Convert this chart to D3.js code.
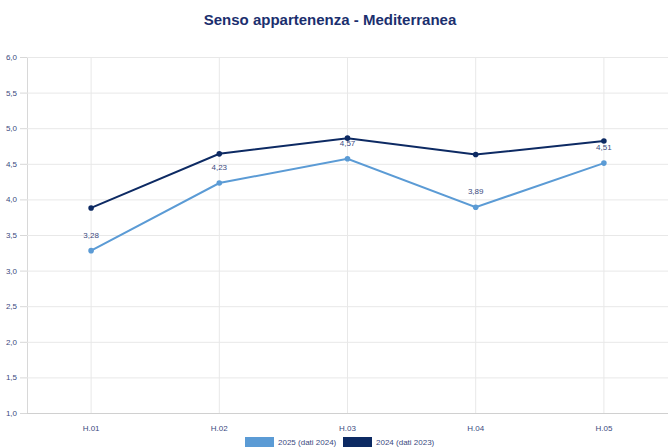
<!DOCTYPE html>
<html>
<head>
<meta charset="utf-8">
<script src="https://cdn.jsdelivr.net/npm/d3@7"></script>
<style>
  body { margin: 0; background: #fff; }
  text { font-family: "Liberation Sans", Arial, sans-serif; }
</style>
</head>
<body>
<div id="chart"></div>
<script>
var categories = ["H.01", "H.02", "H.03", "H.04", "H.05"];
var series2025 = [3.28, 4.23, 4.57, 3.89, 4.51];
var series2024 = [3.88, 4.64, 4.86, 4.63, 4.82];
var seriesNames = ["2025 (dati 2024)", "2024 (dati 2023)"];
var yTicks = [1, 1.5, 2, 2.5, 3, 3.5, 4, 4.5, 5, 5.5, 6];

var w = 668, h = 447;
var mLeft = 27, mRight = 668, mTop = 57, mBottom = 413;
var light = "#5b9bd5", dark = "#0d2a63", labcol = "#3b4a80";

var svg = d3.select("#chart").append("svg").attr("width", w).attr("height", h);

var x = d3.scaleBand().domain(categories).range([mLeft, mRight]);
var y = d3.scaleLinear().domain([1, 6]).range([mBottom, mTop]);
var fmt = function(v) { return d3.format(".1f")(v).replace(".", ","); };
var fmt2 = function(v) { return d3.format(".2f")(v).replace(".", ","); };

// title
svg.append("text").text("Senso appartenenza - Mediterranea")
  .attr("x", 330).attr("y", 25).attr("text-anchor", "middle")
  .attr("font-size", 15).attr("font-weight", "bold").attr("fill", "#1b2f6e");

// horizontal grid + y labels
var ya = svg.append("g").attr("transform", "translate(" + mLeft + ",0)")
  .call(d3.axisLeft(y).tickValues(yTicks).tickFormat(fmt).tickSize(7).tickPadding(3));
ya.select(".domain").attr("stroke", "#d8d8d8");
ya.selectAll(".tick line").attr("stroke", "#d8d8d8");
ya.selectAll(".tick text").attr("fill", labcol).attr("font-size", 8)
  .attr("font-family", "Liberation Sans, Arial, sans-serif");
ya.selectAll(".tick").append("line").attr("x1", 0).attr("x2", mRight - mLeft)
  .attr("stroke", function(d) { return d == 1 ? "#d0d0d0" : "#e8e8e8"; });

// vertical grid + x labels
var xa = svg.append("g").attr("transform", "translate(0," + mBottom + ")")
  .call(d3.axisBottom(x).tickSize(0).tickPadding(12));
xa.select(".domain").remove();
xa.selectAll(".tick text").attr("fill", labcol).attr("font-size", 8)
  .attr("font-family", "Liberation Sans, Arial, sans-serif");
xa.selectAll(".tick").append("line").attr("y1", 0).attr("y2", mTop - mBottom).attr("stroke", "#e8e8e8");

function drawLine(vals, col) {
  var pts = vals.map(function(v, i) { return [x(categories[i]) + x.bandwidth() / 2, y(v)]; });
  svg.append("path").attr("d", d3.line()(pts)).attr("fill", "none")
    .attr("stroke", col).attr("stroke-width", 2);
  svg.selectAll(null).data(pts).enter().append("circle")
    .attr("cx", function(d) { return d[0]; }).attr("cy", function(d) { return d[1]; })
    .attr("r", 2.8).attr("fill", col);
  return pts;
}

var p1 = drawLine(series2025, light);
drawLine(series2024, dark);

svg.selectAll(null).data(series2025).enter().append("text")
  .text(fmt2)
  .attr("x", function(d, i) { return p1[i][0]; })
  .attr("y", function(d, i) { return p1[i][1] - 13; })
  .attr("text-anchor", "middle").attr("font-size", 8).attr("fill", labcol);

// legend
var leg = [[seriesNames[0], light, 245], [seriesNames[1], dark, 343]];
for (var i = 0; i < leg.length; i++) {
  svg.append("rect").attr("x", leg[i][2]).attr("y", 437).attr("width", 29).attr("height", 10).attr("fill", leg[i][1]);
  svg.append("text").text(leg[i][0]).attr("x", leg[i][2] + 33).attr("y", 445)
    .attr("font-size", 8).attr("fill", labcol);
}
</script>
</body>
</html>
